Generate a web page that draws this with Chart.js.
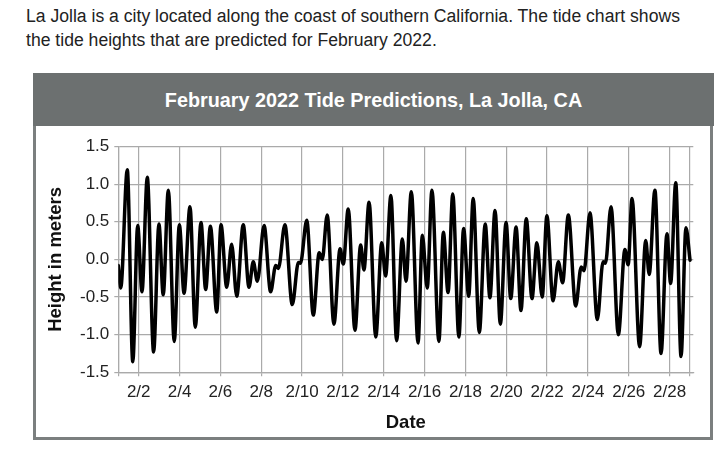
<!DOCTYPE html>
<html>
<head>
<meta charset="utf-8">
<script src="https://cdn.jsdelivr.net/npm/chart.js@4.4.1/dist/chart.umd.min.js"></script>
<style>
  html, body { margin: 0; padding: 0; background: #fff; }
  body { width: 721px; height: 458px; position: relative; overflow: hidden; font-family: "Liberation Sans", Arial, sans-serif; }
  #intro { position: absolute; left: 26px; top: 4px; font-size: 17.6px; line-height: 24px; color: #222; white-space: nowrap; }
  #box { position: absolute; left: 33px; top: 73px; width: 680px; height: 367px; box-sizing: border-box; border: 3px solid #7b7f7f; border-top: none; background: #fff; }
  #header { position: absolute; left: 33px; top: 73px; width: 681px; height: 53px; background: #6c7070; color: #fff; font-weight: bold; font-size: 19.8px; line-height: 55px; text-align: center; }
  #tideChart { position: absolute; left: 36px; top: 126px; }
</style>
</head>
<body>
<div id="intro">La Jolla is a city located along the coast of southern California. The tide chart shows<br>the tide heights that are predicted for February 2022.</div>
<div id="box"></div>
<div id="header">February 2022 Tide Predictions, La Jolla, CA</div>
<canvas id="tideChart" width="674" height="311"></canvas>
<script>
// days since Feb 1 00:00, read at each high / low turn of the curve
const tideDays = [
    0, 0.12, 0.44, 0.71, 0.95, 1.16, 1.42, 1.73, 1.99, 2.20,
    2.45, 2.74, 2.99, 3.22, 3.51, 3.77, 4.05, 4.28, 4.51, 4.82,
    5.03, 5.31, 5.55, 5.80, 6.12, 6.40, 6.61, 6.81, 7.14, 7.46,
    7.71, 7.84, 8.16, 8.52, 8.82, 8.92, 9.23, 9.55, 9.84, 9.99,
    10.23, 10.56, 10.86, 11.02, 11.26, 11.59, 11.87, 12.03, 12.28, 12.61,
    12.90, 13.09, 13.35, 13.63, 13.91, 14.09, 14.35, 14.68, 14.89, 15.13,
    15.36, 15.70, 15.92, 16.15, 16.38, 16.68, 16.91, 17.16, 17.38, 17.68,
    17.97, 18.20, 18.45, 18.71, 18.99, 19.22, 19.48, 19.72, 19.98, 20.26,
    20.50, 20.76, 20.99, 21.29, 21.55, 21.76, 22.04, 22.40, 22.67, 22.81,
    23.10, 23.46, 23.74, 23.86, 24.13, 24.49, 24.81, 24.97, 25.16, 25.53,
    25.83, 26.00, 26.28, 26.58, 26.87, 27.05, 27.30, 27.56, 27.80, 28.0
];
// tide height in meters at those times
const tideHeights = [
    -0.08, -0.38, 1.19, -1.36, 0.45, -0.43, 1.09, -1.23, 0.47, -0.47,
    0.92, -1.09, 0.46, -0.45, 0.70, -0.90, 0.49, -0.40, 0.44, -0.70,
    0.46, -0.37, 0.20, -0.49, 0.46, -0.37, -0.03, -0.29, 0.45, -0.43,
    -0.08, -0.12, 0.46, -0.60, -0.04, -0.05, 0.52, -0.74, 0.09, 0.00,
    0.59, -0.86, 0.14, -0.06, 0.67, -0.94, 0.19, -0.14, 0.76, -1.03,
    0.22, -0.22, 0.85, -1.08, 0.27, -0.29, 0.90, -1.11, 0.32, -0.38,
    0.92, -1.09, 0.36, -0.44, 0.87, -1.03, 0.41, -0.49, 0.81, -0.97,
    0.47, -0.51, 0.65, -0.86, 0.49, -0.52, 0.43, -0.68, 0.54, -0.52,
    0.22, -0.50, 0.58, -0.55, -0.03, -0.31, 0.59, -0.62, -0.10, -0.15,
    0.62, -0.80, -0.03, -0.05, 0.70, -1.00, 0.13, -0.07, 0.81, -1.16,
    0.25, -0.20, 0.92, -1.25, 0.34, -0.32, 1.02, -1.29, 0.42, -0.01
];
const xTickDays = [0, 1, 3, 5, 7, 9, 11, 13, 15, 17, 19, 21, 23, 25, 27, 28];
const xTickLabels = ['', '2/2', '2/4', '2/6', '2/8', '2/10', '2/12', '2/14', '2/16', '2/18', '2/20', '2/22', '2/24', '2/26', '2/28', ''];
const yTickValues = [-1.5, -1.0, -0.5, 0.0, 0.5, 1.0, 1.5];

const gridGray = '#aaaaaa';
const tickFont = { family: "'Liberation Sans', Arial, sans-serif", size: 17 };
const titleFont = { family: "'Liberation Sans', Arial, sans-serif", size: 18.5, weight: 'bold' };

const ctx = document.getElementById('tideChart').getContext('2d');
new Chart(ctx, {
    type: 'line',
    data: {
        datasets: [{
            data: tideDays.map((d, i) => ({ x: d, y: tideHeights[i] })),
            borderColor: '#000',
            borderWidth: 3.5,
            pointRadius: 0,
            cubicInterpolationMode: 'monotone',
            borderJoinStyle: 'round',
            borderCapStyle: 'round',
            fill: false
        }]
    },
    options: {
        responsive: false,
        animation: false,
        devicePixelRatio: 1,
        layout: { padding: { top: 20.5, right: 16.7, bottom: 0, left: 0 } },
        plugins: { legend: { display: false }, tooltip: { enabled: false } },
        scales: {
            x: {
                type: 'linear',
                min: 0,
                max: 28.16,
                afterBuildTicks: scale => { scale.ticks = xTickDays.map(v => ({ value: v })); },
                afterFit: scale => { scale.height = 64.7; },
                ticks: {
                    autoSkip: false,
                    maxRotation: 0,
                    padding: 6,
                    color: '#222',
                    font: tickFont,
                    callback: (v, i) => xTickLabels[i]
                },
                grid: { color: gridGray, lineWidth: 1.2, tickLength: 4 },
                border: { color: gridGray, width: 1.2 },
                title: { display: true, text: 'Date', color: '#111', font: titleFont, padding: { top: 0, bottom: 3 } }
            },
            y: {
                min: -1.5,
                max: 1.5,
                afterBuildTicks: scale => { scale.ticks = yTickValues.map(v => ({ value: v })); },
                afterFit: scale => { scale.width = 82.3; },
                ticks: {
                    padding: 5,
                    color: '#222',
                    font: tickFont,
                    callback: v => v.toFixed(1)
                },
                grid: { color: gridGray, lineWidth: 1.2, tickLength: 4 },
                border: { color: gridGray, width: 1.2 },
                title: { display: true, text: 'Height in meters', color: '#111', font: titleFont, padding: { top: 9, bottom: 0 } }
            }
        }
    }
});
</script>
</body>
</html>
